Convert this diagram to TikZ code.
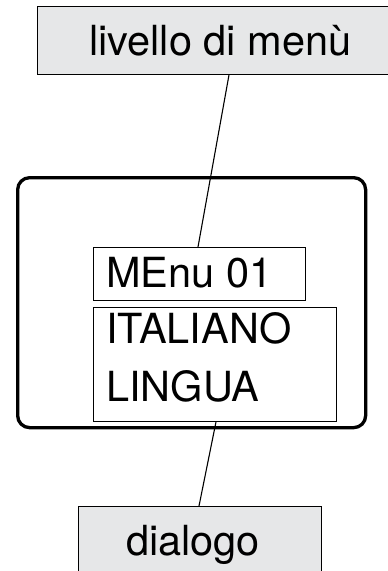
\documentclass[tikz,border=0pt]{standalone}
\usepackage{fontspec}
\setmainfont{TeX Gyre Heros}
\definecolor{boxgray}{RGB}{230,231,232}
\begin{document}
\begin{tikzpicture}[x=1pt,y=-1pt,
  graybox/.style={draw=black,line width=0.9pt,fill=boxgray,rectangle,inner sep=0pt,anchor=north west},
  whitebox/.style={draw=black,line width=0.9pt,fill=white,rectangle,inner sep=0pt,anchor=north west},
  label/.style={font=\fontsize{41.5}{41.5}\selectfont,anchor=base west,inner sep=0pt},
  conn/.style={line width=1.1pt}]
\useasboundingbox (0,0) rectangle (388,571);
\clip (0,0) rectangle (388,571);
\node[graybox,minimum width=360pt,minimum height=68pt] (top) at (37,6) {};
\node[graybox,minimum width=243pt,minimum height=80pt] (dlg) at (78,506) {};
\node[draw=black,line width=3.3pt,rounded corners=12pt,rectangle,minimum width=348pt,minimum height=250pt,anchor=north west,inner sep=0pt] (disp) at (16,176) {};
\node[whitebox,minimum width=212pt,minimum height=53pt] (menu) at (93,247) {};
\node[whitebox,minimum width=243pt,minimum height=114pt] (lang) at (93,307) {};
\node[label] (t1) at (89,55) {livello di menù};
\node[label] (t2) at (106,287) {MEnu 01};
\node[label] (t3) at (106,343) {ITALIANO};
\node[label] (t4) at (106,401) {LINGUA};
\node[label] (t5) at (126,555) {dialogo};
\draw[conn] ([xshift=192pt]top.south west) -- ([xshift=105pt]menu.north west);
\draw[conn] ([xshift=123pt]lang.south west) -- ([xshift=121pt]dlg.north west);
\end{tikzpicture}
\end{document}
